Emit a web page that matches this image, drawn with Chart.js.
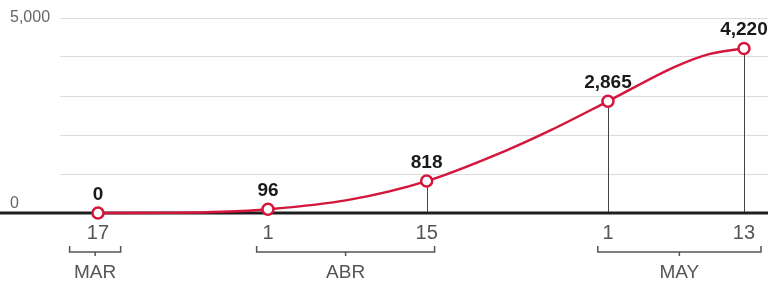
<!DOCTYPE html>
<html>
<head>
<meta charset="utf-8">
<script src="https://cdn.jsdelivr.net/npm/chart.js@4"></script>
<style>
  html, body { margin: 0; padding: 0; background: #fff; }
  #wrap { width: 768px; height: 287px; }
</style>
</head>
<body>
<div id="wrap"><canvas id="myChart" width="768" height="287"></canvas></div>
<script>
// days counted from 17 March
var days = [0, 7, 11, 15, 22, 29, 36, 40, 45, 51, 54, 57];
var cases = [0, 5, 30, 96, 330, 818, 1600, 2130, 2865, 3760, 4080, 4220];

var labelDays = [0, 15, 29, 45, 57];
var dayLabels = ['17', '1', '15', '1', '13'];

var months = ['MAR', 'ABR', 'MAY'];
var monthSpans = [[-2.5, 2], [14, 29.7], [44.1, 58.5]];

var yTicks = [0, 5000];

var red = '#d4163c';
var font = "'Liberation Sans Narrow', 'Liberation Sans', sans-serif";

var extras = {
  id: 'extras',
  beforeDatasetsDraw: function (chart) {
    var c = chart.ctx, x = chart.scales.x, y = chart.scales.y;
    var y0 = y.getPixelForValue(0);
    c.save();
    // drop lines
    c.strokeStyle = '#444';
    c.lineWidth = 1;
    labelDays.forEach(function (d) {
      var v = cases[days.indexOf(d)];
      if (!v) return;
      var px = Math.round(x.getPixelForValue(d)) + 0.5;
      c.beginPath();
      c.moveTo(px, y.getPixelForValue(v));
      c.lineTo(px, y0);
      c.stroke();
    });
    // baseline
    c.strokeStyle = '#1e1e1e';
    c.lineWidth = 3;
    c.beginPath();
    c.moveTo(0, y0);
    c.lineTo(chart.width, y0);
    c.stroke();
    c.restore();
  },
  afterDatasetsDraw: function (chart) {
    var c = chart.ctx, x = chart.scales.x, y = chart.scales.y;
    c.save();
    c.fillStyle = '#1a1a1a';
    c.font = "bold 19px " + font;
    c.textAlign = 'center';
    c.textBaseline = 'alphabetic';
    labelDays.forEach(function (d) {
      var v = cases[days.indexOf(d)];
      c.fillText(v.toLocaleString('en-US'), x.getPixelForValue(d), y.getPixelForValue(v) - 13);
    });
    c.restore();
  },
  afterDraw: function (chart) {
    var c = chart.ctx, x = chart.scales.x, y = chart.scales.y;
    var y0 = y.getPixelForValue(0);
    c.save();
    // y labels
    c.fillStyle = '#666';
    c.font = "16px " + font;
    c.textAlign = 'left';
    c.textBaseline = 'middle';
    c.fillText(yTicks[1].toLocaleString('en-US'), 10, y.getPixelForValue(yTicks[1]));
    c.textBaseline = 'alphabetic';
    c.fillText('0', 10, y0 - 5);
    // day labels
    c.fillStyle = '#555';
    c.font = "20px " + font;
    c.textAlign = 'center';
    c.textBaseline = 'middle';
    labelDays.forEach(function (d, i) {
      c.fillText(dayLabels[i], x.getPixelForValue(d), y0 + 20);
    });
    // month brackets
    c.strokeStyle = '#555';
    c.lineWidth = 1.5;
    c.font = "19px " + font;
    var by = y0 + 39;
    months.forEach(function (m, i) {
      var a = x.getPixelForValue(monthSpans[i][0]);
      var b = x.getPixelForValue(monthSpans[i][1]);
      var mid = (a + b) / 2;
      c.beginPath();
      c.moveTo(a, by - 6);
      c.lineTo(a, by);
      c.lineTo(b, by);
      c.lineTo(b, by - 6);
      c.moveTo(mid, by);
      c.lineTo(mid, by + 4);
      c.stroke();
      c.fillText(m, mid, by + 21);
    });
    c.restore();
  }
};

var ctx = document.getElementById('myChart').getContext('2d');
var myChart = new Chart(ctx, {
  type: 'line',
  data: {
    datasets: [{
      data: days.map(function (d, i) { return { x: d, y: cases[i] }; }),
      borderColor: red,
      borderWidth: 2.5,
      cubicInterpolationMode: 'monotone',
      pointRadius: function (c) { return labelDays.indexOf(days[c.dataIndex]) >= 0 ? 5.5 : 0; },
      pointBackgroundColor: '#fff',
      pointBorderColor: red,
      pointBorderWidth: 2.5,
      clip: false
    }]
  },
  options: {
    responsive: false,
    animation: false,
    layout: { autoPadding: false, padding: { left: 60, right: 0, top: 18, bottom: 74 } },
    plugins: { legend: { display: false }, tooltip: { enabled: false } },
    scales: {
      x: {
        type: 'linear',
        display: false,
        min: -3.35,
        max: 59.12
      },
      y: {
        min: 0,
        max: 5000,
        ticks: { display: false, stepSize: 1000 },
        border: { display: false },
        grid: { color: '#dcdcdc', lineWidth: 1, drawTicks: false }
      }
    }
  },
  plugins: [extras]
});
</script>
</body>
</html>
